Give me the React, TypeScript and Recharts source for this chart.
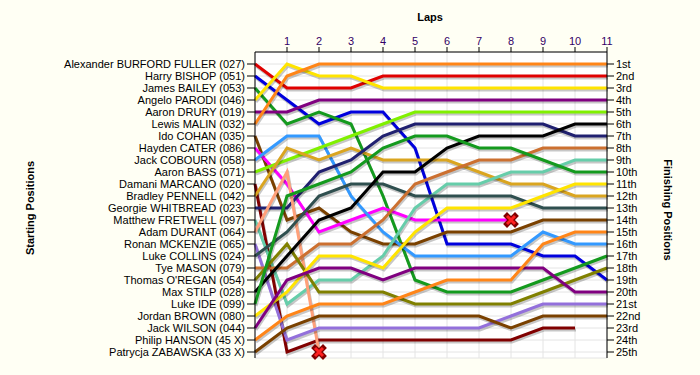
import React from "react";
import { LineChart, Line, XAxis, YAxis, CartesianGrid } from "recharts";

// Left axis labels (rows 1..25)
const driverLabels = [
  "Alexander BURFORD FULLER (027)",
  "Harry BISHOP (051)",
  "James BAILEY (053)",
  "Angelo PARODI (046)",
  "Aaron DRURY (019)",
  "Lewis MALIN (032)",
  "Ido COHAN (035)",
  "Hayden CATER (086)",
  "Jack COBOURN (058)",
  "Aaron BASS (071)",
  "Damani MARCANO (020)",
  "Bradley PENNELL (042)",
  "Georgie WHITBREAD (023)",
  "Matthew FRETWELL (097)",
  "Adam DURANT (064)",
  "Ronan MCKENZIE (065)",
  "Luke COLLINS (024)",
  "Tye MASON (079)",
  "Thomas O'REGAN (054)",
  "Max STILP (028)",
  "Luke IDE (099)",
  "Jordan BROWN (080)",
  "Jack WILSON (044)",
  "Philip HANSON (45 X)",
  "Patrycja ZABAWSKA (33 X)",
];

const finishLabels = [
  "1st", "2nd", "3rd", "4th", "5th", "6th", "7th", "8th", "9th", "10th",
  "11th", "12th", "13th", "14th", "15th", "16th", "17th", "18th", "19th", "20th",
  "21st", "22nd", "23rd", "24th", "25th",
];

const laps = [0, 1, 2, 3, 4, 5, 6, 7, 8, 9, 10, 11];
const lapTicks = [1, 2, 3, 4, 5, 6, 7, 8, 9, 10, 11];
const positionTicks = [1, 2, 3, 4, 5, 6, 7, 8, 9, 10, 11, 12, 13, 14, 15, 16, 17, 18, 19, 20, 21, 22, 23, 24, 25];

// Position per lap (lap 0..11) for each car, in starting order
const s01 = [1, 3, 3, 3, 2, 2, 2, 2, 2, 2, 2, 2];
const s02 = [2, 4, 6, 5, 5, 8, 16, 16, 16, 17, 17, 19];
const s03 = [3, 6, 5, 6, 12, 19, 20, 20, 20, 19, 18, 17];
const s04 = [4, 1, 2, 2, 3, 3, 3, 3, 3, 3, 3, 3];
const s05 = [5, 5, 4, 4, 4, 4, 4, 4, 4, 4, 4, 4];
const s06 = [6, 2, 1, 1, 1, 1, 1, 1, 1, 1, 1, 1];
const s07 = [7, 14, 13, 15, 16, 16, 15, 15, 15, 14, 14, 14];
const s08 = [8, 11, 15, 14, 13, 14, 14, 14, 14, null, null, null];
const s09 = [9, 7, 7, 12, 15, 17, 17, 17, 17, 15, 16, 16];
const s10 = [10, 9, 8, 7, 6, 5, 5, 5, 5, 5, 5, 5];
const s11 = [11, 25, 24, 24, 24, 24, 24, 24, 24, 23, 23, null];
const s12 = [12, 8, 9, 8, 9, 9, 9, 10, 11, 11, 12, 12];
const s13 = [13, 13, 10, 9, 7, 6, 6, 6, 6, 6, 7, 7];
const s14 = [14, 21, 19, 19, 17, 13, 11, 11, 10, 10, 9, 9];
const s15 = [15, 10, 25, null, null, null, null, null, null, null, null, null];
const s16 = [16, 24, 23, 23, 23, 23, 23, 23, 22, 21, 21, 21];
const s17 = [17, 15, 12, 11, 11, 12, 12, 12, 12, 13, 13, 13];
const s18 = [18, 18, 16, 16, 14, 11, 10, 9, 9, 8, 8, 8];
const s19 = [19, 16, 20, 20, 20, 21, 21, 21, 21, 20, 19, 18];
const s20 = [20, 17, 14, 13, 10, 10, 8, 7, 7, 7, 6, 6];
const s21 = [21, 12, 11, 10, 8, 7, 7, 8, 8, 9, 10, 10];
const s22 = [22, 20, 17, 17, 18, 15, 13, 13, 13, 12, 11, 11];
const s23 = [23, 19, 18, 18, 19, 18, 18, 18, 18, 18, 20, 20];
const s24 = [24, 22, 21, 21, 21, 20, 19, 19, 19, 16, 15, 15];
const s25 = [25, 23, 22, 22, 22, 22, 22, 22, 23, 22, 22, 22];

const series = [s01, s02, s03, s04, s05, s06, s07, s08, s09, s10, s11, s12, s13,
  s14, s15, s16, s17, s18, s19, s20, s21, s22, s23, s24, s25];

// Retirements: series index and the lap where the X is drawn
const retiredSeries = [7, 14];
const retiredLaps = [8, 2];

const palette = [
  "#E00000", "#0000DD", "#149A1E", "#FFE400", "#800080", "#FF8518", "#7A4100",
  "#FF00FF", "#3399FF", "#80F000", "#800000", "#DAA520", "#202070", "#66CDAA",
  "#FFA07A", "#9370DB", "#2F4F4F", "#CC7030", "#808000", "#000000",
  "#149A1E", "#FFE400", "#800080", "#FF8518", "#7A4100",
];

const data = laps.map((lap, i) => {
  const row: Record<string, number | null> = { lap };
  series.forEach((s, k) => {
    row["c" + k] = s[i];
  });
  return row;
});

const makeDot = (k: number) => (props: any) => {
  const { cx, cy, index } = props;
  const r = retiredSeries.indexOf(k);
  if (r >= 0 && retiredLaps[r] === index && cx != null && cy != null) {
    const d = "M-4,-4 L4,4 M4,-4 L-4,4";
    return (
      <g key={"x" + k + "-" + index} transform={`translate(${cx},${cy})`}>
        <path d={d} stroke="#800000" strokeWidth={5.5} strokeLinecap="square" fill="none" />
        <path d={d} stroke="#FF2020" strokeWidth={3} strokeLinecap="butt" fill="none" />
      </g>
    );
  }
  return <g key={"d" + k + "-" + index} />;
};

export default function App() {
  return (
    <div
      style={{
        position: "absolute",
        left: 0,
        top: 0,
        width: 700,
        height: 375,
        background: "#FFFFF4",
        fontFamily: "'Liberation Sans', Arial, sans-serif",
      }}
    >
      <style>{`.recharts-line-curve { filter: drop-shadow(1px 2px 0px rgba(0,0,0,0.22)); }`}</style>
      <div style={{ position: "absolute", left: 380, width: 100, top: 11, textAlign: "center", fontWeight: "bold", fontSize: 11 }}>
        Laps
      </div>
      <div
        style={{
          position: "absolute",
          left: 30,
          top: 208,
          fontWeight: "bold",
          fontSize: 11,
          whiteSpace: "nowrap",
          transform: "translate(-50%,-50%) rotate(-90deg)",
        }}
      >
        Starting Positions
      </div>
      <div
        style={{
          position: "absolute",
          left: 668,
          top: 210,
          fontWeight: "bold",
          fontSize: 11,
          whiteSpace: "nowrap",
          transform: "translate(-50%,-50%) rotate(90deg)",
        }}
      >
        Finishing Positions
      </div>
      <LineChart
        width={700}
        height={375}
        data={data}
        margin={{ top: 0, left: 0, right: 0, bottom: 17 }}
        style={{ position: "absolute", left: 0, top: 0 }}
      >
        <CartesianGrid stroke="#E4E4E4" fill="#FFFFFF" />
        <XAxis
          dataKey="lap"
          type="number"
          orientation="top"
          domain={[0, 11]}
          ticks={lapTicks}
          interval={0}
          height={52}
          tickSize={5}
          tickMargin={2}
          stroke="#000"
          tick={{ fontSize: 11, fill: "#330066" }}
          tickLine={{ stroke: "#000" }}
        />
        <YAxis
          type="number"
          domain={[0, 25.5]}
          reversed
          ticks={positionTicks}
          interval={0}
          width={255}
          tickSize={8}
          tickMargin={2}
          stroke="#000"
          tick={{ fontSize: 11, fill: "#000" }}
          tickFormatter={(v: number) => driverLabels[v - 1] ?? ""}
        />
        <YAxis
          yAxisId="r"
          orientation="right"
          type="number"
          domain={[0, 25.5]}
          reversed
          ticks={positionTicks}
          interval={0}
          width={93}
          tickSize={7}
          tickMargin={2}
          stroke="#000"
          tick={{ fontSize: 11, fill: "#000" }}
          tickFormatter={(v: number) => finishLabels[v - 1] ?? ""}
        />
        {/* invisible series bound to the right axis so it renders */}
        <Line
          yAxisId="r"
          type="linear"
          dataKey="c0"
          stroke="none"
          strokeWidth={0}
          dot={false}
          activeDot={false}
          legendType="none"
          isAnimationActive={false}
          className="hidden-ref"
        />
        {series.map((_, k) => (
          <Line
            key={k}
            type="linear"
            dataKey={"c" + k}
            stroke={palette[k]}
            strokeWidth={3}
            dot={makeDot(k)}
            activeDot={false}
            isAnimationActive={false}
            connectNulls={false}
          />
        ))}
      </LineChart>
    </div>
  );
}
